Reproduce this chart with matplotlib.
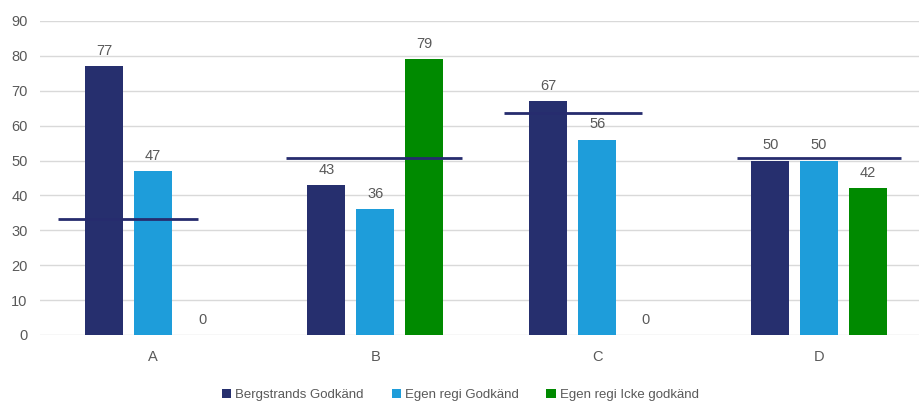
import matplotlib.pyplot as plt
import numpy as np

# data
categories = ['A', 'B', 'C', 'D']
series_names = ['Bergstrands Godkänd', 'Egen regi Godkänd', 'Egen regi Icke godkänd']
bergstrands = [77, 43, 67, 50]
egen_godkand = [47, 36, 56, 50]
egen_icke = [0, 79, 0, 42]
# reference level per category (dark horizontal line)
ref_level = [33.2, 50.7, 63.6, 50.7]
ref_left = [-0.43, -0.40, -0.42, -0.37]
ref_right = [0.20, 0.39, 0.20, 0.37]

colors = ['#262F6E', '#1E9DDA', '#008A00']
text_color = '#595959'

plt.rcParams['font.family'] = ['Liberation Sans', 'DejaVu Sans']

fig = plt.figure(figsize=(9.19, 4.01), dpi=100)
ax = fig.add_axes([40 / 919, 66 / 401, 879 / 919, 314 / 401])

x = np.arange(len(categories))
width = 0.172
pitch = 0.22
all_values = [bergstrands, egen_godkand, egen_icke]
for k, vals in enumerate(all_values):
    pos = x + (k - 1) * pitch
    ax.bar(pos, vals, width, color=colors[k], label=series_names[k], zorder=2)
    for px, v in zip(pos, vals):
        ax.annotate(str(v), (px, v), xytext=(0, 6), textcoords='offset points',
                    ha='center', va='bottom', fontsize=10.5, color=text_color)

for i, lvl in enumerate(ref_level):
    ax.hlines(lvl, x[i] + ref_left[i], x[i] + ref_right[i], color='#262C6E', lw=2, zorder=3)

ax.set_ylim(0, 90)
ax.set_yticks(range(0, 91, 10))
ax.set_xlim(-0.51, 3.45)
ax.set_xticks(x)
ax.set_xticklabels(categories)
ax.yaxis.grid(True, color='#D9D9D9', lw=1, zorder=0)
ax.set_axisbelow(True)
for s in ax.spines.values():
    s.set_visible(False)
ax.tick_params(length=0, labelsize=10.5, colors=text_color)
ax.tick_params(axis='x', pad=11)
ax.tick_params(axis='y', pad=9)

fig.legend(loc='lower center', bbox_to_anchor=(0.501, -0.03), ncol=3, frameon=False,
           fontsize=9.5, labelcolor=text_color, handlelength=0.7, handleheight=0.7,
           handletextpad=0.3, columnspacing=2.1)

fig.savefig('out.png', dpi=100)
